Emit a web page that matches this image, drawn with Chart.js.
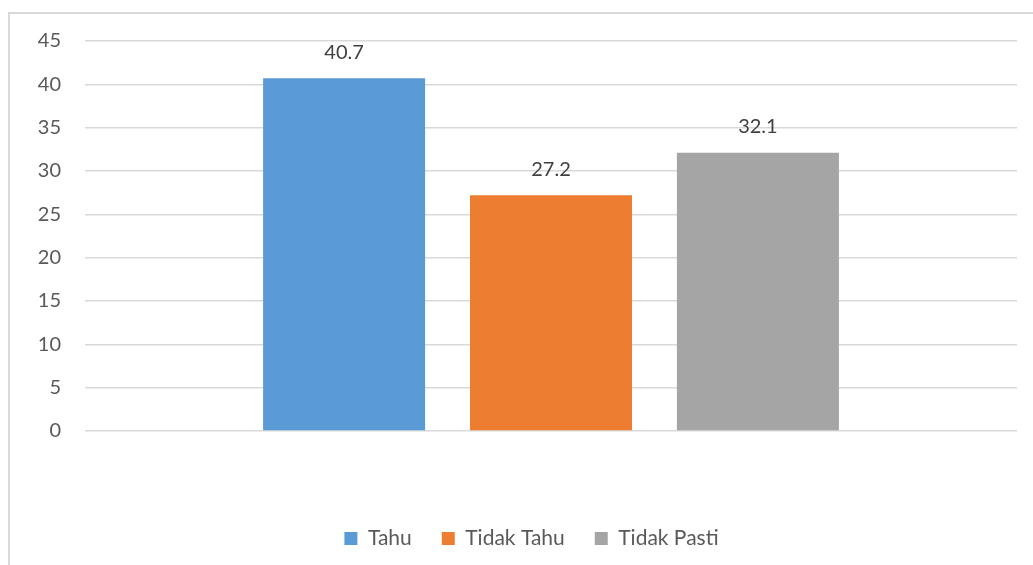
<!DOCTYPE html>
<html lang="id">
<head>
<meta charset="UTF-8">
<title>Tahu / Tidak Tahu / Tidak Pasti</title>
<script src="https://cdn.jsdelivr.net/npm/chart.js@4"></script>
<style>
  html, body { margin: 0; padding: 0; background: #fff; overflow: hidden; }
  .frame {
    position: absolute; left: 8px; top: 12px;
    width: 1100px; height: 600px;
    border: 2px solid #d9d9d9;
  }
  .chart-box { position: absolute; left: 0; top: 0; width: 1033px; height: 565px; }
</style>
</head>
<body>
<div class="frame"></div>
<div class="chart-box"><canvas id="chart"></canvas></div>
<script>
const categories = [''];
const seriesNames = ['Tahu', 'Tidak Tahu', 'Tidak Pasti'];
const seriesValues = [[40.7], [27.2], [32.1]];
const seriesColors = ['#5B9BD5', '#ED7D31', '#A5A5A5'];
const yTicks = [0, 5, 10, 15, 20, 25, 30, 35, 40, 45];

const FONT = 'Lato, "Open Sans", sans-serif';

// value labels above each bar
const barLabels = {
  id: 'barLabels',
  afterDatasetsDraw(chart) {
    const ctx = chart.ctx;
    ctx.save();
    ctx.font = '20px ' + FONT;
    ctx.fillStyle = '#404040';
    ctx.textAlign = 'center';
    ctx.textBaseline = 'middle';
    chart.data.datasets.forEach((ds, i) => {
      chart.getDatasetMeta(i).data.forEach((bar, j) => {
        ctx.fillText(ds.data[j].toFixed(1), bar.x, bar.y - 26);
      });
    });
    ctx.restore();
  }
};

// legend in the original sits a bit right of the canvas centre
const legendShift = {
  id: 'legendShift',
  afterLayout(chart) {
    chart.legend.left += 23;
    chart.legend.right += 23;
  }
};

new Chart(document.getElementById('chart'), {
  type: 'bar',
  data: {
    labels: categories,
    datasets: seriesNames.map((name, i) => ({
      label: name,
      data: seriesValues[i],
      backgroundColor: seriesColors[i],
      categoryPercentage: 0.666,
      barPercentage: 0.783
    }))
  },
  options: {
    responsive: true,
    maintainAspectRatio: false,
    animation: false,
    layout: { padding: { top: 41, right: 16, bottom: 6, left: 0 } },
    plugins: {
      legend: {
        position: 'bottom',
        labels: {
          boxWidth: 13, boxHeight: 13, padding: 30,
          color: '#595959',
          font: { family: FONT, size: 21 }
        }
      },
      tooltip: { enabled: false }
    },
    scales: {
      x: {
        grid: { display: false },
        border: { display: false },
        ticks: { display: false },
        afterFit(scale) { scale.height = 67; }
      },
      y: {
        min: 0, max: 45,
        afterBuildTicks(scale) { scale.ticks = yTicks.map(v => ({ value: v })); },
        grid: { color: '#d9d9d9', lineWidth: 1.5, drawTicks: false },
        border: { display: false },
        ticks: {
          padding: 24,
          color: '#595959',
          font: { family: FONT, size: 20 }
        },
        afterFit(scale) { scale.width = 85; }
      }
    }
  },
  plugins: [barLabels, legendShift]
});
</script>
</body>
</html>
